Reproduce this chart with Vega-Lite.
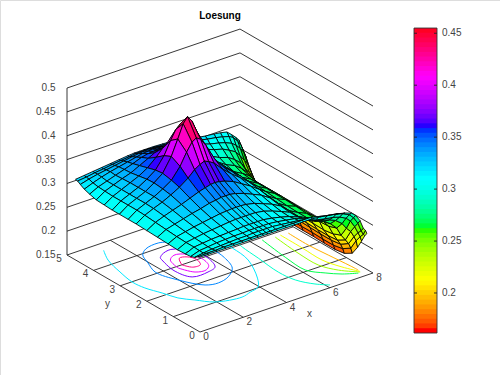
{"$schema":"https://vega.github.io/schema/vega-lite/v6.json","width":500,"height":375,"padding":0,"autosize":{"type":"none"},"background":"white",
"title":{"text":"Loesung","anchor":"middle","dx":-30,"offset":-21,"font":"Liberation Sans","fontSize":10,"fontWeight":"bold","color":"#000"},
"datasets":{
"segments":[
{"x":0,"y":5,"z":0.15,"x2":8,"y2":5,"z2":0.15},{"x":0,"y":5,"z":0.2,"x2":8,"y2":5,"z2":0.2},{"x":0,"y":5,"z":0.25,"x2":8,"y2":5,"z2":0.25},{"x":0,"y":5,"z":0.3,"x2":8,"y2":5,"z2":0.3},{"x":0,"y":5,"z":0.35,"x2":8,"y2":5,"z2":0.35},{"x":0,"y":5,"z":0.4,"x2":8,"y2":5,"z2":0.4},{"x":0,"y":5,"z":0.45,"x2":8,"y2":5,"z2":0.45},{"x":0,"y":5,"z":0.5,"x2":8,"y2":5,"z2":0.5},
{"x":8,"y":5,"z":0.15,"x2":8,"y2":0,"z2":0.15},{"x":8,"y":5,"z":0.2,"x2":8,"y2":0,"z2":0.2},{"x":8,"y":5,"z":0.25,"x2":8,"y2":0,"z2":0.25},{"x":8,"y":5,"z":0.3,"x2":8,"y2":0,"z2":0.3},{"x":8,"y":5,"z":0.35,"x2":8,"y2":0,"z2":0.35},{"x":8,"y":5,"z":0.4,"x2":8,"y2":0,"z2":0.4},{"x":8,"y":5,"z":0.45,"x2":8,"y2":0,"z2":0.45},{"x":8,"y":5,"z":0.5,"x2":8,"y2":0,"z2":0.5},
{"x":0,"y":0,"z":0.15,"x2":0,"y2":5,"z2":0.15},{"x":2,"y":0,"z":0.15,"x2":2,"y2":5,"z2":0.15},{"x":4,"y":0,"z":0.15,"x2":4,"y2":5,"z2":0.15},{"x":6,"y":0,"z":0.15,"x2":6,"y2":5,"z2":0.15},
{"x":0,"y":0,"z":0.15,"x2":8,"y2":0,"z2":0.15},{"x":0,"y":1,"z":0.15,"x2":8,"y2":1,"z2":0.15},{"x":0,"y":2,"z":0.15,"x2":8,"y2":2,"z2":0.15},{"x":0,"y":3,"z":0.15,"x2":8,"y2":3,"z2":0.15},{"x":0,"y":4,"z":0.15,"x2":8,"y2":4,"z2":0.15},
{"x":0,"y":5,"z":0.15,"x2":0,"y2":5,"z2":0.5}],
"contours":[
{"level":0.315,"n":0,"x":1.3,"y":4.68},{"level":0.315,"n":1,"x":0.94,"y":4.22},{"level":0.315,"n":2,"x":0.69,"y":3.57},{"level":0.315,"n":3,"x":0.54,"y":2.99},{"level":0.315,"n":4,"x":0.61,"y":2.57},{"level":0.315,"n":5,"x":0.86,"y":2.12},{"level":0.315,"n":6,"x":1.07,"y":1.7},{"level":0.315,"n":7,"x":1.46,"y":1.38},{"level":0.315,"n":8,"x":1.95,"y":1.02},{"level":0.315,"n":9,"x":2.98,"y":0.84},{"level":0.315,"n":10,"x":3.47,"y":0.93},{"level":0.315,"n":11,"x":3.95,"y":1.03},{"level":0.315,"n":12,"x":4.38,"y":1.4},{"level":0.315,"n":13,"x":5.02,"y":2.27},{"level":0.315,"n":14,"x":5.16,"y":2.98},{"level":0.315,"n":15,"x":5.1,"y":3.6},
{"level":0.34,"n":0,"x":3.71,"y":4.07},{"level":0.34,"n":1,"x":3.26,"y":4.22},{"level":0.34,"n":2,"x":2.6,"y":4.15},{"level":0.34,"n":3,"x":2.21,"y":3.95},{"level":0.34,"n":4,"x":1.96,"y":3.55},{"level":0.34,"n":5,"x":1.71,"y":3.08},{"level":0.34,"n":6,"x":1.98,"y":2.43},{"level":0.34,"n":7,"x":2.51,"y":1.85},{"level":0.34,"n":8,"x":3,"y":1.75},{"level":0.34,"n":9,"x":3.59,"y":1.86},{"level":0.34,"n":10,"x":4.15,"y":2.16},{"level":0.34,"n":11,"x":4.45,"y":2.7},{"level":0.34,"n":12,"x":4.5,"y":3.2},{"level":0.34,"n":13,"x":4.2,"y":3.8},{"level":0.34,"n":14,"x":3.71,"y":4.07},
{"level":0.37,"n":0,"x":2.56,"y":3.58},{"level":0.37,"n":1,"x":2.33,"y":2.91},{"level":0.37,"n":2,"x":2.54,"y":2.36},{"level":0.37,"n":3,"x":3.25,"y":2.34},{"level":0.37,"n":4,"x":3.71,"y":2.45},{"level":0.37,"n":5,"x":3.95,"y":2.9},{"level":0.37,"n":6,"x":3.85,"y":3.4},{"level":0.37,"n":7,"x":3.3,"y":3.78},{"level":0.37,"n":8,"x":2.8,"y":3.7},{"level":0.37,"n":9,"x":2.56,"y":3.58},
{"level":0.4,"n":0,"x":2.58,"y":2.92},{"level":0.4,"n":1,"x":2.87,"y":2.52},{"level":0.4,"n":2,"x":3.3,"y":2.45},{"level":0.4,"n":3,"x":3.6,"y":2.6},{"level":0.4,"n":4,"x":3.75,"y":3},{"level":0.4,"n":5,"x":3.55,"y":3.35},{"level":0.4,"n":6,"x":3.1,"y":3.5},{"level":0.4,"n":7,"x":2.75,"y":3.35},{"level":0.4,"n":8,"x":2.58,"y":2.92},
{"level":0.43,"n":0,"x":2.85,"y":3},{"level":0.43,"n":1,"x":3.05,"y":2.75},{"level":0.43,"n":2,"x":3.4,"y":2.75},{"level":0.43,"n":3,"x":3.55,"y":3},{"level":0.43,"n":4,"x":3.4,"y":3.25},{"level":0.43,"n":5,"x":3.1,"y":3.3},{"level":0.43,"n":6,"x":2.85,"y":3},
{"level":0.29,"n":0,"x":5.6,"y":3.2},{"level":0.29,"n":1,"x":5.5,"y":2.88},{"level":0.29,"n":2,"x":5.41,"y":2.21},{"level":0.29,"n":3,"x":5.29,"y":1.36},{"level":0.29,"n":4,"x":5.39,"y":0.8},{"level":0.29,"n":5,"x":5.76,"y":0.36},{"level":0.29,"n":6,"x":6.15,"y":0.11},
{"level":0.265,"n":0,"x":6.44,"y":2.9},{"level":0.265,"n":1,"x":6.24,"y":1.87},{"level":0.265,"n":2,"x":6.18,"y":1.07},{"level":0.265,"n":3,"x":6.61,"y":0.67},{"level":0.265,"n":4,"x":7.05,"y":0.39},{"level":0.265,"n":5,"x":7.57,"y":0.2},
{"level":0.24,"n":0,"x":6.96,"y":2.83},{"level":0.24,"n":1,"x":6.82,"y":1.86},{"level":0.24,"n":2,"x":6.81,"y":1.09},{"level":0.24,"n":3,"x":7.14,"y":0.6},{"level":0.24,"n":4,"x":7.68,"y":0.22},
{"level":0.215,"n":0,"x":7.21,"y":2.84},{"level":0.215,"n":1,"x":7.2,"y":2.01},{"level":0.215,"n":2,"x":7.17,"y":1.24},{"level":0.215,"n":3,"x":7.4,"y":0.68},{"level":0.215,"n":4,"x":7.7,"y":0.25},
{"level":0.19,"n":0,"x":7.54,"y":2.81},{"level":0.19,"n":1,"x":7.52,"y":2.04},{"level":0.19,"n":2,"x":7.6,"y":1.36},{"level":0.19,"n":3,"x":7.7,"y":0.6},{"level":0.19,"n":4,"x":7.72,"y":0.33}],
"bands":[{"z":0.1615},{"z":0.1661},{"z":0.1707},{"z":0.1752},{"z":0.1798},{"z":0.1844},{"z":0.189},{"z":0.1936},{"z":0.1982},{"z":0.2028},{"z":0.2074},{"z":0.2119},{"z":0.2165},{"z":0.2211},{"z":0.2257},{"z":0.2303},{"z":0.2349},{"z":0.2395},{"z":0.2441},{"z":0.2486},{"z":0.2532},{"z":0.2578},{"z":0.2624},{"z":0.267},{"z":0.2716},{"z":0.2762},{"z":0.2808},{"z":0.2853},{"z":0.2899},{"z":0.2945},{"z":0.2991},{"z":0.3037},{"z":0.3083},{"z":0.3129},{"z":0.3175},{"z":0.322},{"z":0.3266},{"z":0.3312},{"z":0.3358},{"z":0.3404},{"z":0.345},{"z":0.3496},{"z":0.3542},{"z":0.3587},{"z":0.3633},{"z":0.3679},{"z":0.3725},{"z":0.3771},{"z":0.3817},{"z":0.3863},{"z":0.3909},{"z":0.3954},{"z":0.4},{"z":0.4046},{"z":0.4092},{"z":0.4138},{"z":0.4184},{"z":0.423},{"z":0.4276},{"z":0.4321},{"z":0.4367},{"z":0.4413},{"z":0.4459},{"z":0.4505}],
"nodes":[
{"x":7.72,"y":4.68,"z":0.25},{"x":7.65,"y":4.68,"z":0.27},{"x":7.55,"y":4.68,"z":0.285},{"x":7.4,"y":4.68,"z":0.293},{"x":7.2,"y":4.68,"z":0.302},{"x":7,"y":4.68,"z":0.31},{"x":6.7,"y":4.68,"z":0.313},{"x":6.4,"y":4.68,"z":0.315},{"x":6,"y":4.68,"z":0.317},{"x":5.6,"y":4.68,"z":0.32},{"x":5.2,"y":4.68,"z":0.325},{"x":4.8,"y":4.68,"z":0.328},{"x":4.4,"y":4.68,"z":0.33},{"x":4,"y":4.68,"z":0.331},{"x":3.6,"y":4.68,"z":0.332},{"x":3.35,"y":4.68,"z":0.332},{"x":3.15,"y":4.68,"z":0.332},{"x":2.95,"y":4.68,"z":0.332},{"x":2.7,"y":4.68,"z":0.332},{"x":2.4,"y":4.68,"z":0.331},{"x":2,"y":4.68,"z":0.329},{"x":1.6,"y":4.68,"z":0.327},{"x":1.2,"y":4.68,"z":0.325},{"x":0.8,"y":4.68,"z":0.323},{"x":0.4,"y":4.68,"z":0.321},{"x":0,"y":4.68,"z":0.319},
{"x":7.72,"y":4.6,"z":0.245},{"x":7.65,"y":4.6,"z":0.265},{"x":7.55,"y":4.6,"z":0.277},{"x":7.4,"y":4.6,"z":0.287},{"x":7.2,"y":4.6,"z":0.298},{"x":7,"y":4.6,"z":0.303},{"x":6.7,"y":4.6,"z":0.307},{"x":6.4,"y":4.6,"z":0.31},{"x":6,"y":4.6,"z":0.313},{"x":5.6,"y":4.6,"z":0.317},{"x":5.2,"y":4.6,"z":0.322},{"x":4.8,"y":4.6,"z":0.327},{"x":4.4,"y":4.6,"z":0.33},{"x":4,"y":4.6,"z":0.332},{"x":3.6,"y":4.6,"z":0.334},{"x":3.35,"y":4.6,"z":0.334},{"x":3.15,"y":4.6,"z":0.335},{"x":2.95,"y":4.6,"z":0.334},{"x":2.7,"y":4.6,"z":0.334},{"x":2.4,"y":4.6,"z":0.332},{"x":2,"y":4.6,"z":0.33},{"x":1.6,"y":4.6,"z":0.328},{"x":1.2,"y":4.6,"z":0.325},{"x":0.8,"y":4.6,"z":0.323},{"x":0.4,"y":4.6,"z":0.32},{"x":0,"y":4.6,"z":0.318},
{"x":7.72,"y":4.5,"z":0.24},{"x":7.65,"y":4.5,"z":0.255},{"x":7.55,"y":4.5,"z":0.265},{"x":7.4,"y":4.5,"z":0.275},{"x":7.2,"y":4.5,"z":0.285},{"x":7,"y":4.5,"z":0.292},{"x":6.7,"y":4.5,"z":0.298},{"x":6.4,"y":4.5,"z":0.302},{"x":6,"y":4.5,"z":0.306},{"x":5.6,"y":4.5,"z":0.312},{"x":5.2,"y":4.5,"z":0.32},{"x":4.8,"y":4.5,"z":0.327},{"x":4.4,"y":4.5,"z":0.331},{"x":4,"y":4.5,"z":0.334},{"x":3.6,"y":4.5,"z":0.337},{"x":3.35,"y":4.5,"z":0.338},{"x":3.15,"y":4.5,"z":0.339},{"x":2.95,"y":4.5,"z":0.338},{"x":2.7,"y":4.5,"z":0.337},{"x":2.4,"y":4.5,"z":0.335},{"x":2,"y":4.5,"z":0.332},{"x":1.6,"y":4.5,"z":0.329},{"x":1.2,"y":4.5,"z":0.326},{"x":0.8,"y":4.5,"z":0.323},{"x":0.4,"y":4.5,"z":0.319},{"x":0,"y":4.5,"z":0.314},
{"x":7.72,"y":4.35,"z":0.225},{"x":7.65,"y":4.35,"z":0.235},{"x":7.55,"y":4.35,"z":0.245},{"x":7.4,"y":4.35,"z":0.255},{"x":7.2,"y":4.35,"z":0.268},{"x":7,"y":4.35,"z":0.279},{"x":6.7,"y":4.35,"z":0.287},{"x":6.4,"y":4.35,"z":0.294},{"x":6,"y":4.35,"z":0.299},{"x":5.6,"y":4.35,"z":0.306},{"x":5.2,"y":4.35,"z":0.318},{"x":4.8,"y":4.35,"z":0.326},{"x":4.4,"y":4.35,"z":0.332},{"x":4,"y":4.35,"z":0.337},{"x":3.6,"y":4.35,"z":0.342},{"x":3.35,"y":4.35,"z":0.343},{"x":3.15,"y":4.35,"z":0.344},{"x":2.95,"y":4.35,"z":0.343},{"x":2.7,"y":4.35,"z":0.342},{"x":2.4,"y":4.35,"z":0.339},{"x":2,"y":4.35,"z":0.335},{"x":1.6,"y":4.35,"z":0.331},{"x":1.2,"y":4.35,"z":0.327},{"x":0.8,"y":4.35,"z":0.322},{"x":0.4,"y":4.35,"z":0.316},{"x":0,"y":4.35,"z":0.309},
{"x":7.72,"y":4.15,"z":0.205},{"x":7.65,"y":4.15,"z":0.214},{"x":7.55,"y":4.15,"z":0.225},{"x":7.4,"y":4.15,"z":0.235},{"x":7.2,"y":4.15,"z":0.247},{"x":7,"y":4.15,"z":0.262},{"x":6.7,"y":4.15,"z":0.274},{"x":6.4,"y":4.15,"z":0.283},{"x":6,"y":4.15,"z":0.289},{"x":5.6,"y":4.15,"z":0.298},{"x":5.2,"y":4.15,"z":0.313},{"x":4.8,"y":4.15,"z":0.323},{"x":4.4,"y":4.15,"z":0.332},{"x":4,"y":4.15,"z":0.342},{"x":3.6,"y":4.15,"z":0.348},{"x":3.35,"y":4.15,"z":0.349},{"x":3.15,"y":4.15,"z":0.35},{"x":2.95,"y":4.15,"z":0.349},{"x":2.7,"y":4.15,"z":0.348},{"x":2.4,"y":4.15,"z":0.345},{"x":2,"y":4.15,"z":0.338},{"x":1.6,"y":4.15,"z":0.332},{"x":1.2,"y":4.15,"z":0.326},{"x":0.8,"y":4.15,"z":0.32},{"x":0.4,"y":4.15,"z":0.314},{"x":0,"y":4.15,"z":0.305},
{"x":7.72,"y":3.9,"z":0.19},{"x":7.65,"y":3.9,"z":0.199},{"x":7.55,"y":3.9,"z":0.209},{"x":7.4,"y":3.9,"z":0.219},{"x":7.2,"y":3.9,"z":0.232},{"x":7,"y":3.9,"z":0.25},{"x":6.7,"y":3.9,"z":0.264},{"x":6.4,"y":3.9,"z":0.274},{"x":6,"y":3.9,"z":0.282},{"x":5.6,"y":3.9,"z":0.294},{"x":5.2,"y":3.9,"z":0.31},{"x":4.8,"y":3.9,"z":0.323},{"x":4.4,"y":3.9,"z":0.335},{"x":4,"y":3.9,"z":0.347},{"x":3.6,"y":3.9,"z":0.358},{"x":3.35,"y":3.9,"z":0.36},{"x":3.15,"y":3.9,"z":0.362},{"x":2.95,"y":3.9,"z":0.36},{"x":2.7,"y":3.9,"z":0.358},{"x":2.4,"y":3.9,"z":0.351},{"x":2,"y":3.9,"z":0.342},{"x":1.6,"y":3.9,"z":0.333},{"x":1.2,"y":3.9,"z":0.327},{"x":0.8,"y":3.9,"z":0.32},{"x":0.4,"y":3.9,"z":0.313},{"x":0,"y":3.9,"z":0.301},
{"x":7.72,"y":3.6,"z":0.174},{"x":7.65,"y":3.6,"z":0.183},{"x":7.55,"y":3.6,"z":0.196},{"x":7.4,"y":3.6,"z":0.206},{"x":7.2,"y":3.6,"z":0.222},{"x":7,"y":3.6,"z":0.241},{"x":6.7,"y":3.6,"z":0.258},{"x":6.4,"y":3.6,"z":0.267},{"x":6,"y":3.6,"z":0.277},{"x":5.6,"y":3.6,"z":0.29},{"x":5.2,"y":3.6,"z":0.31},{"x":4.8,"y":3.6,"z":0.325},{"x":4.4,"y":3.6,"z":0.338},{"x":4,"y":3.6,"z":0.355},{"x":3.6,"y":3.6,"z":0.377},{"x":3.35,"y":3.6,"z":0.387},{"x":3.15,"y":3.6,"z":0.39},{"x":2.95,"y":3.6,"z":0.387},{"x":2.7,"y":3.6,"z":0.377},{"x":2.4,"y":3.6,"z":0.363},{"x":2,"y":3.6,"z":0.347},{"x":1.6,"y":3.6,"z":0.336},{"x":1.2,"y":3.6,"z":0.328},{"x":0.8,"y":3.6,"z":0.32},{"x":0.4,"y":3.6,"z":0.312},{"x":0,"y":3.6,"z":0.3},
{"x":7.72,"y":3.3,"z":0.166},{"x":7.65,"y":3.3,"z":0.176},{"x":7.55,"y":3.3,"z":0.189},{"x":7.4,"y":3.3,"z":0.2},{"x":7.2,"y":3.3,"z":0.216},{"x":7,"y":3.3,"z":0.237},{"x":6.7,"y":3.3,"z":0.254},{"x":6.4,"y":3.3,"z":0.265},{"x":6,"y":3.3,"z":0.275},{"x":5.6,"y":3.3,"z":0.289},{"x":5.2,"y":3.3,"z":0.31},{"x":4.8,"y":3.3,"z":0.326},{"x":4.4,"y":3.3,"z":0.342},{"x":4,"y":3.3,"z":0.367},{"x":3.6,"y":3.3,"z":0.403},{"x":3.35,"y":3.3,"z":0.423},{"x":3.15,"y":3.3,"z":0.431},{"x":2.95,"y":3.3,"z":0.423},{"x":2.7,"y":3.3,"z":0.403},{"x":2.4,"y":3.3,"z":0.376},{"x":2,"y":3.3,"z":0.352},{"x":1.6,"y":3.3,"z":0.339},{"x":1.2,"y":3.3,"z":0.328},{"x":0.8,"y":3.3,"z":0.32},{"x":0.4,"y":3.3,"z":0.312},{"x":0,"y":3.3,"z":0.299},
{"x":7.72,"y":3.03,"z":0.166},{"x":7.65,"y":3.03,"z":0.176},{"x":7.55,"y":3.03,"z":0.189},{"x":7.4,"y":3.03,"z":0.2},{"x":7.2,"y":3.03,"z":0.216},{"x":7,"y":3.03,"z":0.237},{"x":6.7,"y":3.03,"z":0.254},{"x":6.4,"y":3.03,"z":0.265},{"x":6,"y":3.03,"z":0.275},{"x":5.6,"y":3.03,"z":0.289},{"x":5.2,"y":3.03,"z":0.31},{"x":4.8,"y":3.03,"z":0.327},{"x":4.4,"y":3.03,"z":0.343},{"x":4,"y":3.03,"z":0.371},{"x":3.6,"y":3.03,"z":0.415},{"x":3.35,"y":3.03,"z":0.443},{"x":3.15,"y":3.03,"z":0.455},{"x":2.95,"y":3.03,"z":0.443},{"x":2.7,"y":3.03,"z":0.415},{"x":2.4,"y":3.03,"z":0.383},{"x":2,"y":3.03,"z":0.354},{"x":1.6,"y":3.03,"z":0.34},{"x":1.2,"y":3.03,"z":0.328},{"x":0.8,"y":3.03,"z":0.32},{"x":0.4,"y":3.03,"z":0.312},{"x":0,"y":3.03,"z":0.299},
{"x":7.72,"y":2.7,"z":0.166},{"x":7.65,"y":2.7,"z":0.176},{"x":7.55,"y":2.7,"z":0.189},{"x":7.4,"y":2.7,"z":0.2},{"x":7.2,"y":2.7,"z":0.216},{"x":7,"y":2.7,"z":0.237},{"x":6.7,"y":2.7,"z":0.254},{"x":6.4,"y":2.7,"z":0.265},{"x":6,"y":2.7,"z":0.275},{"x":5.6,"y":2.7,"z":0.288},{"x":5.2,"y":2.7,"z":0.309},{"x":4.8,"y":2.7,"z":0.325},{"x":4.4,"y":2.7,"z":0.341},{"x":4,"y":2.7,"z":0.364},{"x":3.6,"y":2.7,"z":0.398},{"x":3.35,"y":2.7,"z":0.415},{"x":3.15,"y":2.7,"z":0.421},{"x":2.95,"y":2.7,"z":0.415},{"x":2.7,"y":2.7,"z":0.398},{"x":2.4,"y":2.7,"z":0.373},{"x":2,"y":2.7,"z":0.35},{"x":1.6,"y":2.7,"z":0.338},{"x":1.2,"y":2.7,"z":0.328},{"x":0.8,"y":2.7,"z":0.32},{"x":0.4,"y":2.7,"z":0.312},{"x":0,"y":2.7,"z":0.299},
{"x":7.72,"y":2.4,"z":0.166},{"x":7.65,"y":2.4,"z":0.176},{"x":7.55,"y":2.4,"z":0.189},{"x":7.4,"y":2.4,"z":0.2},{"x":7.2,"y":2.4,"z":0.216},{"x":7,"y":2.4,"z":0.236},{"x":6.7,"y":2.4,"z":0.254},{"x":6.4,"y":2.4,"z":0.264},{"x":6,"y":2.4,"z":0.274},{"x":5.6,"y":2.4,"z":0.287},{"x":5.2,"y":2.4,"z":0.307},{"x":4.8,"y":2.4,"z":0.322},{"x":4.4,"y":2.4,"z":0.336},{"x":4,"y":2.4,"z":0.352},{"x":3.6,"y":2.4,"z":0.371},{"x":3.35,"y":2.4,"z":0.378},{"x":3.15,"y":2.4,"z":0.382},{"x":2.95,"y":2.4,"z":0.378},{"x":2.7,"y":2.4,"z":0.371},{"x":2.4,"y":2.4,"z":0.358},{"x":2,"y":2.4,"z":0.345},{"x":1.6,"y":2.4,"z":0.335},{"x":1.2,"y":2.4,"z":0.326},{"x":0.8,"y":2.4,"z":0.319},{"x":0.4,"y":2.4,"z":0.311},{"x":0,"y":2.4,"z":0.299},
{"x":7.72,"y":2,"z":0.166},{"x":7.65,"y":2,"z":0.176},{"x":7.55,"y":2,"z":0.188},{"x":7.4,"y":2,"z":0.2},{"x":7.2,"y":2,"z":0.215},{"x":7,"y":2,"z":0.236},{"x":6.7,"y":2,"z":0.253},{"x":6.4,"y":2,"z":0.264},{"x":6,"y":2,"z":0.272},{"x":5.6,"y":2,"z":0.284},{"x":5.2,"y":2,"z":0.304},{"x":4.8,"y":2,"z":0.317},{"x":4.4,"y":2,"z":0.328},{"x":4,"y":2,"z":0.339},{"x":3.6,"y":2,"z":0.346},{"x":3.35,"y":2,"z":0.349},{"x":3.15,"y":2,"z":0.35},{"x":2.95,"y":2,"z":0.349},{"x":2.7,"y":2,"z":0.346},{"x":2.4,"y":2,"z":0.342},{"x":2,"y":2,"z":0.335},{"x":1.6,"y":2,"z":0.328},{"x":1.2,"y":2,"z":0.322},{"x":0.8,"y":2,"z":0.316},{"x":0.4,"y":2,"z":0.309},{"x":0,"y":2,"z":0.298},
{"x":7.72,"y":1.6,"z":0.165},{"x":7.65,"y":1.6,"z":0.175},{"x":7.55,"y":1.6,"z":0.187},{"x":7.4,"y":1.6,"z":0.199},{"x":7.2,"y":1.6,"z":0.215},{"x":7,"y":1.6,"z":0.235},{"x":6.7,"y":1.6,"z":0.252},{"x":6.4,"y":1.6,"z":0.263},{"x":6,"y":1.6,"z":0.27},{"x":5.6,"y":1.6,"z":0.281},{"x":5.2,"y":1.6,"z":0.299},{"x":4.8,"y":1.6,"z":0.311},{"x":4.4,"y":1.6,"z":0.319},{"x":4,"y":1.6,"z":0.327},{"x":3.6,"y":1.6,"z":0.333},{"x":3.35,"y":1.6,"z":0.335},{"x":3.15,"y":1.6,"z":0.335},{"x":2.95,"y":1.6,"z":0.335},{"x":2.7,"y":1.6,"z":0.333},{"x":2.4,"y":1.6,"z":0.331},{"x":2,"y":1.6,"z":0.326},{"x":1.6,"y":1.6,"z":0.322},{"x":1.2,"y":1.6,"z":0.317},{"x":0.8,"y":1.6,"z":0.312},{"x":0.4,"y":1.6,"z":0.307},{"x":0,"y":1.6,"z":0.297},
{"x":7.72,"y":1.2,"z":0.165},{"x":7.65,"y":1.2,"z":0.175},{"x":7.55,"y":1.2,"z":0.187},{"x":7.4,"y":1.2,"z":0.199},{"x":7.2,"y":1.2,"z":0.214},{"x":7,"y":1.2,"z":0.235},{"x":6.7,"y":1.2,"z":0.252},{"x":6.4,"y":1.2,"z":0.261},{"x":6,"y":1.2,"z":0.269},{"x":5.6,"y":1.2,"z":0.279},{"x":5.2,"y":1.2,"z":0.295},{"x":4.8,"y":1.2,"z":0.305},{"x":4.4,"y":1.2,"z":0.312},{"x":4,"y":1.2,"z":0.319},{"x":3.6,"y":1.2,"z":0.323},{"x":3.35,"y":1.2,"z":0.324},{"x":3.15,"y":1.2,"z":0.324},{"x":2.95,"y":1.2,"z":0.324},{"x":2.7,"y":1.2,"z":0.323},{"x":2.4,"y":1.2,"z":0.322},{"x":2,"y":1.2,"z":0.319},{"x":1.6,"y":1.2,"z":0.316},{"x":1.2,"y":1.2,"z":0.313},{"x":0.8,"y":1.2,"z":0.309},{"x":0.4,"y":1.2,"z":0.305},{"x":0,"y":1.2,"z":0.296},
{"x":7.72,"y":0.85,"z":0.168},{"x":7.65,"y":0.85,"z":0.179},{"x":7.55,"y":0.85,"z":0.19},{"x":7.4,"y":0.85,"z":0.201},{"x":7.2,"y":0.85,"z":0.217},{"x":7,"y":0.85,"z":0.236},{"x":6.7,"y":0.85,"z":0.253},{"x":6.4,"y":0.85,"z":0.261},{"x":6,"y":0.85,"z":0.269},{"x":5.6,"y":0.85,"z":0.278},{"x":5.2,"y":0.85,"z":0.293},{"x":4.8,"y":0.85,"z":0.301},{"x":4.4,"y":0.85,"z":0.308},{"x":4,"y":0.85,"z":0.314},{"x":3.6,"y":0.85,"z":0.317},{"x":3.35,"y":0.85,"z":0.317},{"x":3.15,"y":0.85,"z":0.317},{"x":2.95,"y":0.85,"z":0.317},{"x":2.7,"y":0.85,"z":0.317},{"x":2.4,"y":0.85,"z":0.316},{"x":2,"y":0.85,"z":0.314},{"x":1.6,"y":0.85,"z":0.312},{"x":1.2,"y":0.85,"z":0.31},{"x":0.8,"y":0.85,"z":0.307},{"x":0.4,"y":0.85,"z":0.304},{"x":0,"y":0.85,"z":0.295},
{"x":7.72,"y":0.55,"z":0.178},{"x":7.65,"y":0.55,"z":0.19},{"x":7.55,"y":0.55,"z":0.201},{"x":7.4,"y":0.55,"z":0.211},{"x":7.2,"y":0.55,"z":0.224},{"x":7,"y":0.55,"z":0.242},{"x":6.7,"y":0.55,"z":0.256},{"x":6.4,"y":0.55,"z":0.265},{"x":6,"y":0.55,"z":0.272},{"x":5.6,"y":0.55,"z":0.28},{"x":5.2,"y":0.55,"z":0.293},{"x":4.8,"y":0.55,"z":0.3},{"x":4.4,"y":0.55,"z":0.305},{"x":4,"y":0.55,"z":0.309},{"x":3.6,"y":0.55,"z":0.312},{"x":3.35,"y":0.55,"z":0.312},{"x":3.15,"y":0.55,"z":0.312},{"x":2.95,"y":0.55,"z":0.312},{"x":2.7,"y":0.55,"z":0.312},{"x":2.4,"y":0.55,"z":0.311},{"x":2,"y":0.55,"z":0.31},{"x":1.6,"y":0.55,"z":0.309},{"x":1.2,"y":0.55,"z":0.308},{"x":0.8,"y":0.55,"z":0.306},{"x":0.4,"y":0.55,"z":0.304},{"x":0,"y":0.55,"z":0.296},
{"x":7.72,"y":0.35,"z":0.197},{"x":7.65,"y":0.35,"z":0.212},{"x":7.55,"y":0.35,"z":0.222},{"x":7.4,"y":0.35,"z":0.235},{"x":7.2,"y":0.35,"z":0.245},{"x":7,"y":0.35,"z":0.258},{"x":6.7,"y":0.35,"z":0.269},{"x":6.4,"y":0.35,"z":0.275},{"x":6,"y":0.35,"z":0.28},{"x":5.6,"y":0.35,"z":0.286},{"x":5.2,"y":0.35,"z":0.296},{"x":4.8,"y":0.35,"z":0.302},{"x":4.4,"y":0.35,"z":0.305},{"x":4,"y":0.35,"z":0.308},{"x":3.6,"y":0.35,"z":0.31},{"x":3.35,"y":0.35,"z":0.31},{"x":3.15,"y":0.35,"z":0.31},{"x":2.95,"y":0.35,"z":0.31},{"x":2.7,"y":0.35,"z":0.31},{"x":2.4,"y":0.35,"z":0.309},{"x":2,"y":0.35,"z":0.309},{"x":1.6,"y":0.35,"z":0.308},{"x":1.2,"y":0.35,"z":0.307},{"x":0.8,"y":0.35,"z":0.305},{"x":0.4,"y":0.35,"z":0.303},{"x":0,"y":0.35,"z":0.297},
{"x":7.72,"y":0.2,"z":0.215},{"x":7.65,"y":0.2,"z":0.225},{"x":7.55,"y":0.2,"z":0.235},{"x":7.4,"y":0.2,"z":0.25},{"x":7.2,"y":0.2,"z":0.265},{"x":7,"y":0.2,"z":0.274},{"x":6.7,"y":0.2,"z":0.281},{"x":6.4,"y":0.2,"z":0.285},{"x":6,"y":0.2,"z":0.288},{"x":5.6,"y":0.2,"z":0.292},{"x":5.2,"y":0.2,"z":0.299},{"x":4.8,"y":0.2,"z":0.303},{"x":4.4,"y":0.2,"z":0.305},{"x":4,"y":0.2,"z":0.307},{"x":3.6,"y":0.2,"z":0.309},{"x":3.35,"y":0.2,"z":0.309},{"x":3.15,"y":0.2,"z":0.309},{"x":2.95,"y":0.2,"z":0.309},{"x":2.7,"y":0.2,"z":0.309},{"x":2.4,"y":0.2,"z":0.308},{"x":2,"y":0.2,"z":0.308},{"x":1.6,"y":0.2,"z":0.307},{"x":1.2,"y":0.2,"z":0.306},{"x":0.8,"y":0.2,"z":0.305},{"x":0.4,"y":0.2,"z":0.303},{"x":0,"y":0.2,"z":0.3},
{"x":7.72,"y":0.08,"z":0.23},{"x":7.65,"y":0.08,"z":0.234},{"x":7.55,"y":0.08,"z":0.243},{"x":7.4,"y":0.08,"z":0.261},{"x":7.2,"y":0.08,"z":0.276},{"x":7,"y":0.08,"z":0.285},{"x":6.7,"y":0.08,"z":0.292},{"x":6.4,"y":0.08,"z":0.296},{"x":6,"y":0.08,"z":0.299},{"x":5.6,"y":0.08,"z":0.303},{"x":5.2,"y":0.08,"z":0.307},{"x":4.8,"y":0.08,"z":0.307},{"x":4.4,"y":0.08,"z":0.307},{"x":4,"y":0.08,"z":0.307},{"x":3.6,"y":0.08,"z":0.307},{"x":3.35,"y":0.08,"z":0.307},{"x":3.15,"y":0.08,"z":0.307},{"x":2.95,"y":0.08,"z":0.307},{"x":2.7,"y":0.08,"z":0.307},{"x":2.4,"y":0.08,"z":0.307},{"x":2,"y":0.08,"z":0.307},{"x":1.6,"y":0.08,"z":0.307},{"x":1.2,"y":0.08,"z":0.307},{"x":0.8,"y":0.08,"z":0.306},{"x":0.4,"y":0.08,"z":0.306},{"x":0,"y":0.08,"z":0.305},
{"x":7.72,"y":0,"z":0.237},{"x":7.65,"y":0,"z":0.245},{"x":7.55,"y":0,"z":0.251},{"x":7.4,"y":0,"z":0.269},{"x":7.2,"y":0,"z":0.283},{"x":7,"y":0,"z":0.291},{"x":6.7,"y":0,"z":0.296},{"x":6.4,"y":0,"z":0.299},{"x":6,"y":0,"z":0.302},{"x":5.6,"y":0,"z":0.305},{"x":5.2,"y":0,"z":0.307},{"x":4.8,"y":0,"z":0.307},{"x":4.4,"y":0,"z":0.307},{"x":4,"y":0,"z":0.307},{"x":3.6,"y":0,"z":0.307},{"x":3.35,"y":0,"z":0.307},{"x":3.15,"y":0,"z":0.307},{"x":2.95,"y":0,"z":0.307},{"x":2.7,"y":0,"z":0.307},{"x":2.4,"y":0,"z":0.307},{"x":2,"y":0,"z":0.307},{"x":1.6,"y":0,"z":0.307},{"x":1.2,"y":0,"z":0.307},{"x":0.8,"y":0,"z":0.307},{"x":0.4,"y":0,"z":0.307},{"x":0,"y":0,"z":0.307}]
},
"layer":[
{"data":{"name":"segments"},"transform":[
{"calculate":"200+21.625*datum.x-26.6*datum.y","as":"sx"},{"calculate":"332-7.375*datum.x-15.4*datum.y-477*(datum.z-0.15)","as":"sy"},
{"calculate":"200+21.625*datum.x2-26.6*datum.y2","as":"sx2"},{"calculate":"332-7.375*datum.x2-15.4*datum.y2-477*(datum.z2-0.15)","as":"sy2"}],
"mark":{"type":"rule","stroke":"#222","strokeWidth":0.9},
"encoding":{"x":{"field":"sx","type":"quantitative","scale":{"domain":[0,500],"nice":false,"zero":false},"axis":null},"x2":{"field":"sx2"},
"y":{"field":"sy","type":"quantitative","scale":{"domain":[375,0],"nice":false,"zero":false},"axis":null},"y2":{"field":"sy2"}}},
{"data":{"name":"contours"},"transform":[
{"calculate":"200+21.625*datum.x-26.6*datum.y","as":"sx"},{"calculate":"332-7.375*datum.x-15.4*datum.y","as":"sy"}],
"mark":{"type":"line","strokeWidth":1,"interpolate":"catmull-rom"},
"encoding":{"x":{"field":"sx","type":"quantitative"},"y":{"field":"sy","type":"quantitative"},"order":{"field":"n","type":"quantitative"},
"stroke":{"field":"level","type":"quantitative","legend":null,"scale":{"type":"linear","domain":[0.1615,0.2104,0.2594,0.3083,0.3572,0.4061,0.455],"range":["#ff0000","#ffff00","#00ff00","#00ffff","#0000ff","#ff00ff","#ff0000"]}}}},
{"data":{"name":"nodes"},"transform":[
{"calculate":"indexof([0,0.4,0.8,1.2,1.6,2,2.4,2.7,2.95,3.15,3.35,3.6,4,4.4,4.8,5.2,5.6,6,6.4,6.7,7,7.2,7.4,7.55,7.65,7.72],datum.x)","as":"i"},
{"calculate":"indexof([0,0.08,0.2,0.35,0.55,0.85,1.2,1.6,2,2.4,2.7,3.03,3.3,3.6,3.9,4.15,4.35,4.5,4.6,4.68],datum.y)","as":"j"},
{"calculate":"[0,1,2,3]","as":"c"},{"flatten":["c"]},
{"calculate":"datum.i-((datum.c==1||datum.c==2)?1:0)","as":"qi"},{"calculate":"datum.j-(datum.c>=2?1:0)","as":"qj"},
{"filter":"datum.qi>=0&&datum.qi<=24&&datum.qj>=0&&datum.qj<=18"},
{"calculate":"'q'+datum.qi+'_'+datum.qj","as":"q"},
{"joinaggregate":[{"op":"mean","field":"z","as":"zq"}],"groupby":["q"]},
{"calculate":"200+21.625*datum.x-26.6*datum.y","as":"sx"},{"calculate":"332-7.375*datum.x-15.4*datum.y-477*(datum.z-0.15)","as":"sy"}],
"mark":{"type":"line","stroke":"#000","strokeWidth":0.85,"interpolate":"linear-closed"},
"encoding":{"x":{"field":"sx","type":"quantitative"},"y":{"field":"sy","type":"quantitative"},"detail":{"field":"q"},"order":{"field":"c","type":"quantitative"},
"fill":{"field":"zq","type":"quantitative","legend":null,"scale":{"type":"linear","domain":[0.1615,0.2104,0.2594,0.3083,0.3572,0.4061,0.455],"range":["#ff0000","#ffff00","#00ff00","#00ffff","#0000ff","#ff00ff","#ff0000"]}}}},
{"data":{"name":"bands"},"transform":[
{"calculate":"333-(datum.z-0.1615)*1039","as":"sy"},{"calculate":"max(333-(datum.z+0.0056-0.1615)*1039,28)","as":"sy2"},{"calculate":"414","as":"sx"},{"calculate":"437","as":"sx2"}],
"mark":{"type":"rect"},
"encoding":{"x":{"field":"sx","type":"quantitative"},"x2":{"field":"sx2"},"y":{"field":"sy","type":"quantitative"},"y2":{"field":"sy2"},
"fill":{"field":"z","type":"quantitative","legend":null}}},
{"data":{"values":[{"zmin":0.1615,"zmax":0.455}]},"transform":[
{"calculate":"333-(datum.zmin-0.1615)*1039","as":"sy"},{"calculate":"333-(datum.zmax-0.1615)*1039","as":"sy2"},{"calculate":"414","as":"sx"},{"calculate":"437","as":"sx2"}],
"mark":{"type":"rect","fill":null,"fillOpacity":0,"stroke":"#333","strokeWidth":0.9},
"encoding":{"x":{"field":"sx","type":"quantitative"},"x2":{"field":"sx2"},"y":{"field":"sy","type":"quantitative"},"y2":{"field":"sy2"}}},
{"data":{"values":[{"z":0.2,"side":0},{"z":0.25,"side":0},{"z":0.3,"side":0},{"z":0.35,"side":0},{"z":0.4,"side":0},{"z":0.45,"side":0},{"z":0.2,"side":1},{"z":0.25,"side":1},{"z":0.3,"side":1},{"z":0.35,"side":1},{"z":0.4,"side":1},{"z":0.45,"side":1}]},"transform":[
{"calculate":"333-(datum.z-0.1615)*1039","as":"sy"},{"calculate":"datum.side==0?414:434","as":"sx"},{"calculate":"datum.sx+3","as":"sx2"}],
"mark":{"type":"rule","stroke":"#222","strokeWidth":0.9},
"encoding":{"x":{"field":"sx","type":"quantitative"},"x2":{"field":"sx2"},"y":{"field":"sy","type":"quantitative"}}},
{"data":{"values":[{"z":0.2},{"z":0.25},{"z":0.3},{"z":0.35},{"z":0.4},{"z":0.45}]},"transform":[
{"calculate":"333-(datum.z-0.1615)*1039","as":"sy"},{"calculate":"437","as":"sx"}],
"mark":{"type":"text","dx":5,"font":"Liberation Sans","fontSize":10,"fill":"#444","align":"left","baseline":"middle"},
"encoding":{"x":{"field":"sx","type":"quantitative"},"y":{"field":"sy","type":"quantitative"},"text":{"field":"z","type":"quantitative","format":".2~f"}}},
{"data":{"values":[{"x":0,"t":0},{"x":2,"t":2},{"x":4,"t":4},{"x":6,"t":6},{"x":8,"t":8}]},"transform":[
{"calculate":"200+21.625*datum.x","as":"sx"},{"calculate":"332-7.375*datum.x","as":"sy"}],
"mark":{"type":"text","dx":6,"dy":5,"font":"Liberation Sans","fontSize":10,"fill":"#444","align":"center","baseline":"middle"},
"encoding":{"x":{"field":"sx","type":"quantitative"},"y":{"field":"sy","type":"quantitative"},"text":{"field":"t"}}},
{"data":{"values":[{"y":0,"t":0},{"y":1,"t":1},{"y":2,"t":2},{"y":3,"t":3},{"y":4,"t":4},{"y":5,"t":5}]},"transform":[
{"calculate":"200-26.6*datum.y","as":"sx"},{"calculate":"332-15.4*datum.y","as":"sy"}],
"mark":{"type":"text","dx":-8,"dy":4,"font":"Liberation Sans","fontSize":10,"fill":"#444","align":"center","baseline":"middle"},
"encoding":{"x":{"field":"sx","type":"quantitative"},"y":{"field":"sy","type":"quantitative"},"text":{"field":"t"}}},
{"data":{"values":[{"z":0.15},{"z":0.2},{"z":0.25},{"z":0.3},{"z":0.35},{"z":0.4},{"z":0.45},{"z":0.5}]},"transform":[
{"calculate":"67","as":"sx"},{"calculate":"255-477*(datum.z-0.15)","as":"sy"}],
"mark":{"type":"text","dx":-11.5,"font":"Liberation Sans","fontSize":10,"fill":"#444","align":"right","baseline":"middle"},
"encoding":{"x":{"field":"sx","type":"quantitative"},"y":{"field":"sy","type":"quantitative"},"text":{"field":"z","type":"quantitative","format":".2~f"}}},
{"data":{"values":[{"label":"x","x":4.2,"y":-0.7},{"label":"y","x":-1.2,"y":2.5}]},"transform":[
{"calculate":"200+21.625*datum.x-26.6*datum.y","as":"sx"},{"calculate":"332-7.375*datum.x-15.4*datum.y","as":"sy"}],
"mark":{"type":"text","dy":2,"font":"Liberation Sans","fontSize":10,"fill":"#444","align":"center","baseline":"middle"},
"encoding":{"x":{"field":"sx","type":"quantitative"},"y":{"field":"sy","type":"quantitative"},"text":{"field":"label"}}}
]}
